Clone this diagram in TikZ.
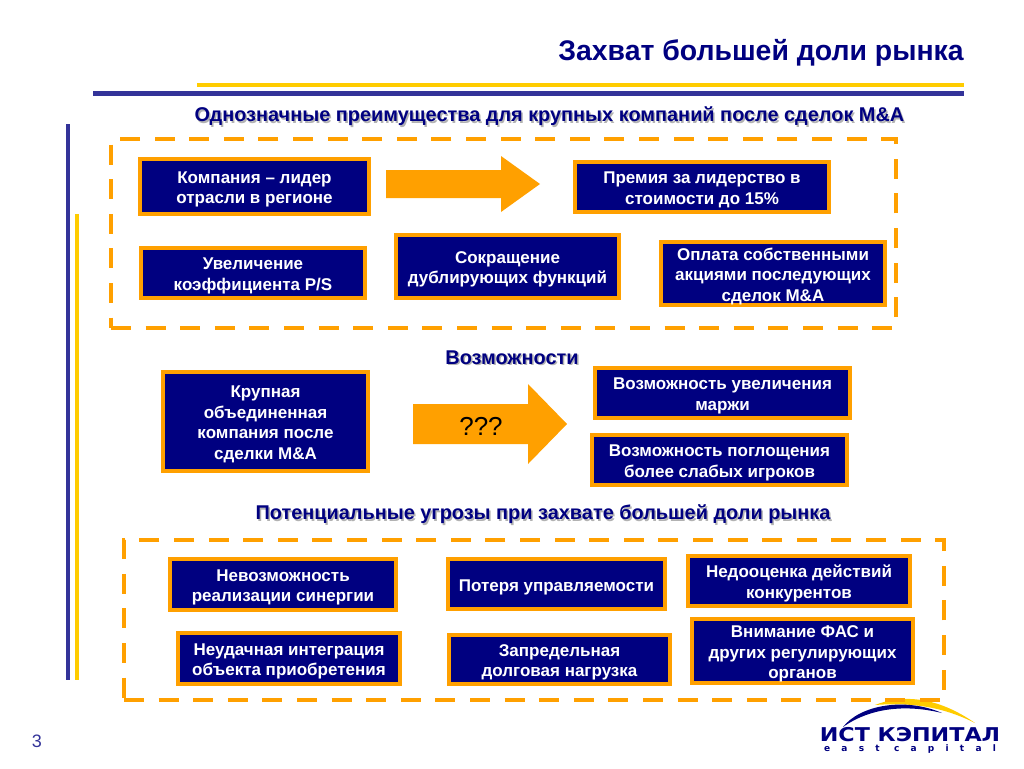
\documentclass[tikz,border=0pt]{standalone}
\usepackage{fontspec}
\usepackage{tikz}
\usetikzlibrary{positioning,calc}
\setmainfont{Liberation Sans}
\newfontfamily\logofont{DejaVu Sans}
\newfontfamily\logosmall[LetterSpace=125]{DejaVu Sans}
\definecolor{navy}{RGB}{0,0,128}
\definecolor{barblue}{RGB}{51,51,153}
\definecolor{baryellow}{RGB}{255,204,0}
\definecolor{accent}{RGB}{255,160,0}
\newcommand{\shadowed}[1]{\leavevmode\rlap{\kern1.5pt\raisebox{-1.5pt}{\textcolor{black!30}{#1}}}#1}
\newcommand{\lowered}{\rule{0pt}{17.7pt}}
\tikzset{
  leadbox/.style={draw=accent,fill=navy,line width=4pt,text=white,align=center,
    font=\fontsize{17}{20.6}\selectfont\bfseries,inner sep=0pt},
  framebox/.style={draw=accent,line width=4pt,dash pattern=on 20pt off 14.6pt},
  heading/.style={text=navy,font=\fontsize{19.9}{24}\selectfont\bfseries,inner sep=0pt},
  bigarrow/.style={fill=accent}
}
\begin{document}
\begin{tikzpicture}[x=1pt,y=-1pt]
  \useasboundingbox (0,0) rectangle (1024,768);

  \node[text=navy,font=\fontsize{28.4}{32}\selectfont\bfseries,inner sep=0pt] (title) at (761,53) {Захват большей доли рынка};

  \draw[baryellow,line width=4pt] (197,85) -- (964,85);
  \draw[barblue,line width=5pt] (93,93.5) -- (964,93.5);
  \draw[barblue,line width=4pt] (68,124) -- (68,680);
  \draw[baryellow,line width=4pt] (77,214) -- (77,680);

  % logo
  \fill[baryellow] (875,705) .. controls (900,695) and (935,695) .. (975,723)
    .. controls (945,708) and (915,702) .. (875,705) -- cycle;
  \fill[navy] (843,727) .. controls (860,705) and (905,697) .. (942,713)
    .. controls (905,704) and (870,708) .. (843,727) -- cycle;
  \node[text=navy,inner sep=0pt,font=\logofont\fontsize{19}{20}\selectfont\bfseries,xscale=1.17] (logotop) at (910,734.5) {ИСТ КЭПИТАЛ};
  \node[text=navy,inner sep=0pt,font=\logosmall\fontsize{9}{10}\selectfont\bfseries] (logobottom) at (910,749.5) {east capital};

  \node[text=barblue,font=\fontsize{18}{20}\selectfont,inner sep=0pt] (page) at (37,741) {3};

  \node[heading] (headA) at (549.5,117) {\shadowed{Однозначные преимущества для крупных компаний после сделок M\&A}};
  \node[heading] (headB) at (512,358) {\shadowed{Возможности}};
  \node[heading] (headC) at (543,515) {\shadowed{Потенциальные угрозы при захвате большей доли рынка}};

  \draw[framebox] (111,328) -- (896,328) -- (896,139) -- (111,139) -- cycle;
  \draw[framebox] (124,700) -- (944,700) -- (944,540) -- (124,540) -- cycle;

  \node[leadbox,minimum width=229pt,minimum height=55pt] (leader) at (254.5,186.5) {\lowered Компания -- лидер\\отрасли в регионе};
  \node[leadbox,minimum width=254pt,minimum height=50pt] (premium) at (702,187) {\lowered Премия за лидерство в\\стоимости до 15\%};
  \node[leadbox,minimum width=224pt,minimum height=50pt] (ratio) at (253,273) {\lowered Увеличение\\коэффициента P/S};
  \node[leadbox,minimum width=223pt,minimum height=63pt] (duplicate) at (507.5,266.5) {\lowered Сокращение\\дублирующих функций};
  \node[leadbox,minimum width=224pt,minimum height=63pt] (shares) at (773,273.5) {\lowered Оплата собственными\\акциями последующих\\сделок M\&A};

  \node[leadbox,minimum width=205pt,minimum height=99pt] (merged) at (265.5,421.5) {\lowered Крупная\\объединенная\\компания после\\сделки M\&A};
  \node[leadbox,minimum width=255pt,minimum height=50pt] (margin) at (722.5,393) {\lowered Возможность увеличения\\маржи};
  \node[leadbox,minimum width=255pt,minimum height=50pt] (absorb) at (719.5,460) {\lowered Возможность поглощения\\более слабых игроков};

  \node[leadbox,minimum width=226pt,minimum height=51pt] (synergy) at (283,584.5) {\lowered Невозможность\\реализации синергии};
  \node[leadbox,minimum width=217pt,minimum height=50pt] (control) at (556.5,584) {\lowered Потеря управляемости};
  \node[leadbox,minimum width=222pt,minimum height=50pt] (rivals) at (799,581) {\lowered Недооценка действий\\конкурентов};
  \node[leadbox,minimum width=222pt,minimum height=51pt] (integration) at (289,658.5) {\lowered Неудачная интеграция\\объекта приобретения};
  \node[leadbox,minimum width=221pt,minimum height=49pt] (debt) at (559.5,659.5) {\lowered Запредельная\\долговая нагрузка};
  \node[leadbox,minimum width=221pt,minimum height=64pt] (fas) at (802.5,651) {\lowered Внимание ФАС и\\других регулирующих\\органов};

  \fill[bigarrow] (386,170) -- (501,170) -- (501,156) -- (540,184) -- (501,212) -- (501,198) -- (386,198) -- cycle;
  \fill[bigarrow] (413,404) -- (528,404) -- (528,384) -- (567,424) -- (528,464) -- (528,444) -- (413,444) -- cycle;
  \node[font=\fontsize{26}{28}\selectfont,inner sep=0pt] (unknown) at (481,426.5) {???};
\end{tikzpicture}
\end{document}
